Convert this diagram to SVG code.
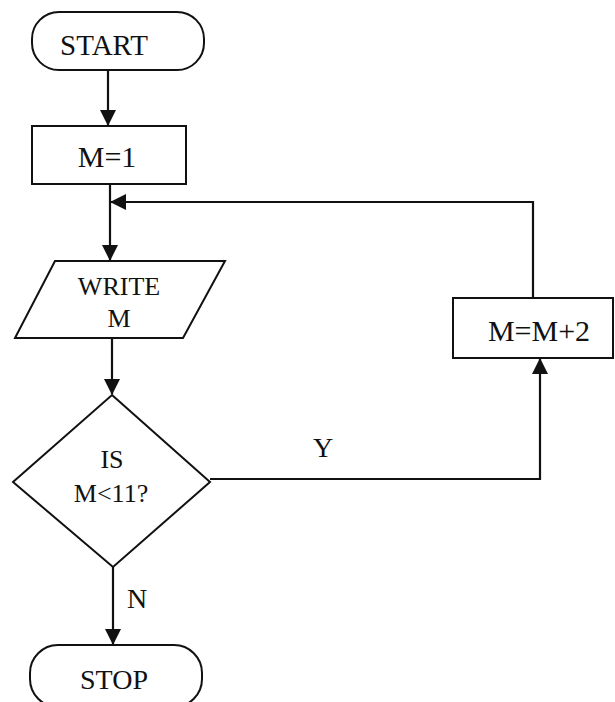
<svg xmlns="http://www.w3.org/2000/svg" width="615" height="702" viewBox="0 0 615 702">
<defs>
<style>
.s{fill:#fff;stroke:#111;stroke-width:2}
.c{fill:none;stroke:#111;stroke-width:2.2}
.t{font-family:"Liberation Serif","Times New Roman",serif;fill:#111;text-anchor:middle}
</style>
<marker id="ah" markerWidth="16" markerHeight="16" refX="15" refY="8" orient="auto" markerUnits="userSpaceOnUse">
<path d="M0,0 L16,8 L0,16 Z" fill="#111"/>
</marker>
</defs>
<rect width="615" height="702" fill="#fff"/>
<g id="connectors">
<line class="c" x1="108" y1="70" x2="108" y2="125" marker-end="url(#ah)"/>
<line class="c" x1="110" y1="184" x2="110" y2="260" marker-end="url(#ah)"/>
<polyline class="c" points="533,298 533,202 111,202" marker-end="url(#ah)"/>
<line class="c" x1="112" y1="338" x2="112" y2="394" marker-end="url(#ah)"/>
<line class="c" x1="113" y1="567" x2="113" y2="644" marker-end="url(#ah)"/>
<polyline class="c" points="210,479 540,479 540,359" marker-end="url(#ah)"/>
</g>
<g id="start">
<rect class="s" x="32" y="12" width="172" height="58" rx="27"/>
<text class="t" x="104" y="55" font-size="29">START</text>
</g>
<g id="init">
<rect class="s" x="32" y="126" width="154" height="58"/>
<text class="t" x="107" y="167" font-size="30">M=1</text>
</g>
<g id="write">
<polygon class="s" points="55,261 225,261 183,338 15,338"/>
<text class="t" x="119" y="295" font-size="26">WRITE</text>
<text class="t" x="119" y="327" font-size="26">M</text>
</g>
<g id="decision">
<polygon class="s" points="112,395 210,482 113,567 13,482"/>
<text class="t" x="112" y="468" font-size="26">IS</text>
<text class="t" x="111" y="502" font-size="26">M&lt;11?</text>
</g>
<g id="increment">
<rect class="s" x="453" y="298" width="160" height="60"/>
<text class="t" x="539" y="341" font-size="30">M=M+2</text>
</g>
<g id="stop">
<rect class="s" x="30" y="645" width="172" height="62" rx="28"/>
<text class="t" x="114" y="689" font-size="28">STOP</text>
</g>
<g id="labels">
<text class="t" x="323" y="457" font-size="28">Y</text>
<text class="t" x="137" y="608" font-size="28">N</text>
</g>
</svg>
